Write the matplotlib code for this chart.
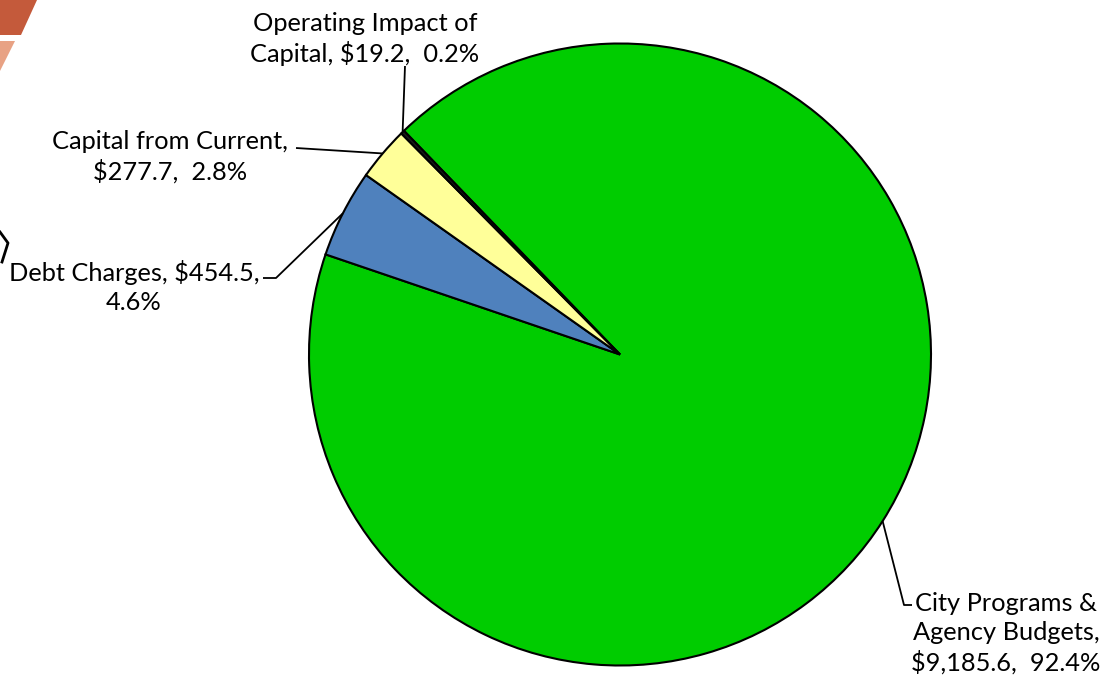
import numpy as np
import matplotlib
matplotlib.use("Agg")
import matplotlib.pyplot as plt
from matplotlib.patches import Polygon

# ---- data ----
categories = ["City Programs &\nAgency Budgets", "Debt Charges", "Capital from Current", "Operating Impact of\nCapital"]
values = [9185.6, 454.5, 277.7, 19.2]
colors = ["#00CC00", "#4F81BD", "#FFFF99", "#1A1A1A"]

W, H = 1104, 679
plt.rcParams['font.family'] = ['Lato', 'DejaVu Sans']

fig = plt.figure(figsize=(W / 100, H / 100), dpi=100)
ax = fig.add_axes([0, 0, 1, 1])

def P(px, py):
    return (px, H - py)

cx, cy = P(620, 354.5)
R = 311
wedges, _ = ax.pie(values, colors=colors, startangle=134.0, counterclock=False,
                   center=(cx, cy), radius=R,
                   wedgeprops=dict(edgecolor="black", linewidth=1.5))
ax.set_xlim(0, W)
ax.set_ylim(0, H)
ax.set_aspect("equal")
ax.axis("off")

total = sum(values)
pcts = [v / total * 100 for v in values]
# Line breaks as in the reference
txt = [
    "City Programs &\nAgency Budgets,\n${:,.1f},  {:.1f}%".format(values[0], pcts[0]),
    "Debt Charges, ${:,.1f},\n{:.1f}%".format(values[1], pcts[1]),
    "Capital from Current,\n${:,.1f},  {:.1f}%".format(values[2], pcts[2]),
    "Operating Impact of\nCapital, ${:,.1f},  {:.1f}%".format(values[3], pcts[3]),
]
text_pos = [P(1006, 633), P(134, 287), P(170, 157), P(365, 39)]
leader_start = [[P(912, 605), P(904, 605)],
                [P(263, 278), P(276, 278)],
                [P(296, 148)],
                [P(405, 66)]]

for w, t, tp, ls in zip(wedges, txt, text_pos, leader_start):
    mid = np.deg2rad((w.theta1 + w.theta2) / 2)
    ex, ey = cx + R * np.cos(mid), cy + R * np.sin(mid)
    xs = [p[0] for p in ls] + [ex]
    ys = [p[1] for p in ls] + [ey]
    ax.plot(xs, ys, color="black", lw=1.3, solid_capstyle="butt")
    ax.text(tp[0], tp[1], t, ha="center", va="center", fontsize=18.3,
            linespacing=1.3, color="black")

# slide decorations
ax.add_patch(Polygon([P(0, 0), P(37, 0), P(21, 35), P(0, 35)], closed=True,
                     facecolor="#C45A3B", edgecolor="none"))
ax.add_patch(Polygon([P(0, 41), P(15, 41), P(0, 71)], closed=True,
                     facecolor="#E8A284", edgecolor="none"))
ax.plot([0, 8, 2], [H - 232, H - 243, H - 262], color="black", lw=2)

fig.savefig("out.png", dpi=100)
